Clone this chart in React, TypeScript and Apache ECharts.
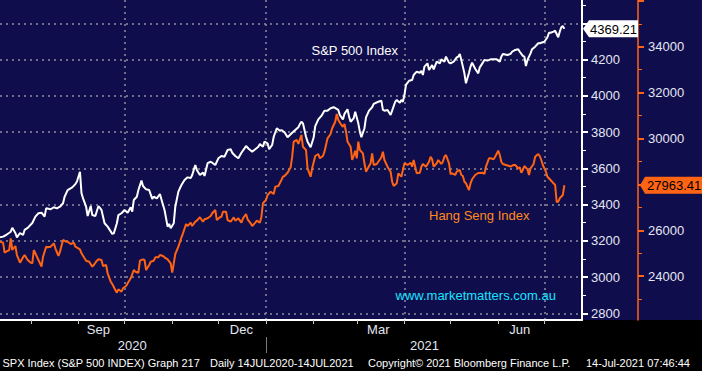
import React, { useEffect, useRef } from 'react';
import * as echarts from 'echarts';

const DAY = 86400000;
const ts = (s: string) => Date.parse(s + 'T00:00:00Z');
const START = ts('2020-07-12');
const toDay = (s: string) => (ts(s) - START) / DAY;
const X_MAX = 378.47;

// day offsets from 2020-07-12 and values
const spDays = [0,2,4,7,8,10,11,13,15,16,18,21,23,25,27,29,30,33,35,37,39,41,42,44,47,49,50,52,53,54,56,57,59,60,62,64,66,68,70,73,74,76,77,79,81,83,85,86,87,89,90,92,93,95,97,99,100,102,104,106,107,109,110,111,113,114,116,118,120,122,124,125,127,128,130,132,133,135,137,138,140,142,144,146,148,150,151,153,155,157,159,160,162,164,166,168,169,171,172,174,175,177,178,180,182,183,185,187,190,192,194,195,196,197,199,200,202,204,205,207,209,211,213,215,217,220,221,223,224,226,227,228,230,231,233,234,235,237,238,240,242,243,246,248,249,250,252,254,255,257,258,260,261,262,263,264,266,268,269,271,273,274,275,276,278,279,281,282,284,286,287,289,290,292,293,295,297,298,299,300,301,302,303,305,306,307,309,311,312,314,315,317,319,321,323,325,326,327,330,332,333,335,337,338,340,341,342,343,345,346,348,350,351,352,354,356,357,358,360,361,363,364,365,366,367];
const spValues = [3219,3223,3232,3250,3272,3243,3219,3243,3232,3260,
3271,3298,3333,3352,3355,3333,3379,3374,3385,3379,
3388,3407,3443,3480,3495,3513,3526,3581,3462,3434,
3388,3337,3392,3342,3337,3392,3370,3297,3278,3238,
3241,3297,3342,3352,3370,3355,3385,3361,3425,3443,
3480,3532,3502,3484,3480,3431,3443,3434,3458,3398,
3370,3278,3293,3269,3297,3388,3471,3508,3535,3550,
3546,3563,3618,3591,3563,3576,3558,3628,3636,3631,
3618,3655,3668,3664,3701,3705,3686,3668,3655,3686,
3710,3723,3705,3692,3705,3719,3734,3719,3747,3738,
3705,3729,3774,3821,3807,3811,3799,3771,3796,3811,
3826,3844,3857,3848,3774,3747,3716,3771,3833,3870,
3889,3918,3918,3931,3937,3922,3894,3870,3900,3926,
3885,3857,3876,3912,3848,3802,3771,3821,3881,3918,
3937,3955,3967,3973,3922,3918,3922,3894,3918,3967,
3977,3962,3977,3967,4004,4060,4083,4087,4115,4133,
4127,4138,4115,4161,4179,4142,4170,4146,4188,4179,
4201,4188,4216,4183,4179,4188,4212,4216,4231,4198,
4161,4124,4069,4127,4161,4183,4149,4124,4157,4183,
4198,4194,4201,4201,4201,4188,4216,4231,4225,4231,
4243,4253,4257,4243,4220,4216,4164,4198,4234,4257,
4271,4290,4290,4293,4298,4323,4348,4348,4354,4359,
4323,4354,4378,4385,4369.21];

const hsiDays = [0,2,3,4,6,7,8,10,11,13,15,16,18,20,21,22,24,26,27,28,30,31,33,35,36,38,39,41,43,44,46,48,49,52,53,55,56,58,60,61,63,64,66,67,69,70,72,73,75,76,77,79,80,82,83,85,87,88,90,91,93,94,95,97,98,100,101,103,104,106,107,109,111,112,113,114,116,118,119,121,122,124,125,127,128,130,132,133,135,137,138,140,141,143,144,145,147,148,150,152,153,155,157,158,160,161,163,164,166,167,169,170,171,173,174,176,178,179,181,183,184,185,187,189,190,191,193,194,196,197,199,200,202,203,205,207,208,210,211,213,215,216,218,219,220,222,223,224,225,226,228,229,230,231,232,233,234,236,237,238,240,241,242,243,245,246,248,249,250,252,254,255,256,258,259,261,262,263,265,267,268,269,270,271,273,274,275,277,279,280,281,282,284,285,287,288,289,290,292,293,294,296,297,299,300,301,302,303,305,306,307,309,311,312,314,315,316,318,319,321,322,324,325,326,327,329,331,332,334,335,337,338,339,340,341,343,344,345,347,348,350,351,352,353,355,356,358,359,361,362,363,364,366,367];
const hsiValues = [25504,25460,25025,25068,25142,25652,25142,25317,24924,24589,
24824,24924,24707,24589,24563,25142,24850,24563,24415,24850,
25286,25260,25286,25434,25216,24881,25068,25578,25504,25504,
25404,25460,25286,25173,24998,24781,24676,24632,24415,24489,
24676,24737,24707,24445,24489,24127,23761,23661,23399,23282,
23430,23325,23473,23574,23691,23909,24271,24197,24153,24676,
24737,24707,24271,24489,24632,24676,24824,24824,24924,24881,
24824,24737,24563,24153,24563,24968,25286,25696,25870,26275,
26188,26332,26188,26375,26419,26567,26375,26480,26523,26624,
26741,26885,26449,26567,26593,26811,26811,26449,26375,26567,
26419,26523,26332,26523,26711,26480,26306,26188,26332,26419,
26332,26593,27177,27321,27539,27682,27582,27900,27931,28192,
28336,28366,28510,28745,29207,29861,29935,29761,30153,29643,
29499,28702,28336,28702,29238,29325,29138,29238,29425,30009,
30196,30445,30732,31068,30806,30588,30514,30632,30297,29861,
29643,29064,29238,29469,29138,29861,29499,29355,28920,28554,
28802,28920,29355,28846,28889,28989,29181,29425,29064,28772,
28554,28118,27931,28048,28484,28336,28628,28920,28846,28946,
28772,29064,28772,28484,28510,28772,28889,28772,28989,29207,
29094,28772,28920,29064,28889,28989,29207,29281,28920,28453,
28484,28410,28554,28628,28410,28366,28118,28048,27756,28048,
28223,28410,28497,28497,28510,28453,28772,29138,29138,29094,
29207,29469,29281,28989,28889,28846,28802,28772,28846,28846,
28702,28745,28510,28628,28802,28658,28410,28702,28889,29207,
29325,29238,29064,28846,28554,28336,28192,28118,27974,27234,
27247,27395,27539,27963.41];

const monthTicks = ['2020-08-01','2020-09-01','2020-10-01','2020-11-01','2020-12-01','2021-01-01','2021-02-01','2021-03-01','2021-04-01','2021-05-01','2021-06-01','2021-07-01'];
const monthLabelDates = ['2020-09-14','2020-12-16','2021-03-15','2021-06-15'];
const monthNames = ['Jan','Feb','Mar','Apr','May','Jun','Jul','Aug','Sep','Oct','Nov','Dec'];
const yearLabelDates = ['2020-10-06','2021-04-14'];
const yearBoundary = ['2021-01-01'];
const quarterLines = ['2020-10-01','2021-01-01','2021-04-01','2021-07-01'];

const spTicks = [2800,3000,3200,3400,3600,3800,4000,4200,4400];
const spLabels = [2800,3000,3200,3400,3600,3800,4000,4200];
const spMinor = [2900,3100,3300,3500,3700,3900,4100,4300,4500];
const hsiTicks = [24000,26000,28000,30000,32000,34000,36000];
const hsiLabels = [24000,26000,30000,32000,34000];
const hsiMinor = [23000,25000,27000,29000,31000,33000,35000];

const spLast = 4369.21;
const hsiLast = 27963.41;

const FONT = '"Liberation Sans", Arial, sans-serif';
const NAVY = '#0f0d4b';
const ORANGE = '#ff6414';
const LABEL = '#e4e6f4';
const GRID_RIGHT = 582;
const HSI_AXIS_X = 638;

const dateOf = (d: number) => new Date(START + Math.round(d) * DAY);
const plain = (v: number) => String(v);

export default function App() {
  const ref = useRef<HTMLDivElement>(null);
  useEffect(() => {
    if (!ref.current) return;
    const chart = echarts.init(ref.current, null, { renderer: 'svg' });
    const spData = spDays.map((d, i) => [d, spValues[i]]);
    const hsiData = hsiDays.map((d, i) => [d, hsiValues[i]]);
    const dotted = { type: [2, 4] as any, color: '#8e8ea0', width: 1.5 };
    chart.setOption({
      animation: false,
      backgroundColor: new echarts.graphic.LinearGradient(0, 0, 0, 1, [
        { offset: 0, color: NAVY },
        { offset: 320 / 371, color: NAVY },
        { offset: 320 / 371, color: '#000' },
        { offset: 1, color: '#000' },
      ]),
      grid: { left: 0, top: 0, right: 702 - GRID_RIGHT, bottom: 51, containLabel: false },
      xAxis: [
        {
          type: 'value', min: 0, max: X_MAX, position: 'bottom',
          axisLine: { show: true, onZero: false, lineStyle: { color: '#ffffff', width: 2 } },
          axisTick: { show: true, customValues: monthTicks.map(toDay), length: 4, lineStyle: { color: '#c8c8c8' } },
          axisLabel: {
            customValues: monthLabelDates.map(toDay), color: LABEL, fontSize: 13, fontFamily: FONT, margin: 3,
            formatter: (v: number) => monthNames[dateOf(v).getUTCMonth()],
          },
          splitLine: { show: false },
        },
        {
          type: 'value', min: 0, max: X_MAX, position: 'bottom', offset: 17,
          axisLine: { show: false, onZero: false },
          axisTick: { show: true, customValues: yearBoundary.map(toDay), length: 16, lineStyle: { color: '#7a7a7a' } },
          axisLabel: {
            customValues: yearLabelDates.map(toDay), color: LABEL, fontSize: 13, fontFamily: FONT, margin: 2,
            formatter: (v: number) => String(dateOf(v).getUTCFullYear()),
          },
          splitLine: { show: false },
        },
        {
          type: 'value', min: 0, max: X_MAX, position: 'top',
          axisLine: { show: false, onZero: false },
          axisTick: { show: false, customValues: quarterLines.map(toDay) },
          axisLabel: { show: false },
          splitLine: { show: true, lineStyle: dotted },
        },
      ],
      yAxis: [
        {
          type: 'value', position: 'right', min: 2763, max: 4528.5,
          axisLine: { show: true, onZero: false, lineStyle: { color: '#ffffff', width: 2 } },
          axisTick: { show: true, customValues: spTicks, length: 6, lineStyle: { color: '#ffffff', width: 2 } },
          axisLabel: { customValues: spLabels, color: LABEL, fontSize: 13, fontFamily: FONT, margin: 9, formatter: plain },
          splitLine: { show: true, lineStyle: dotted },
        },
        {
          type: 'value', position: 'right', offset: HSI_AXIS_X - GRID_RIGHT, min: 22092, max: 36035,
          axisLine: { show: true, onZero: false, lineStyle: { color: ORANGE, width: 1.5 } },
          axisTick: { show: true, customValues: hsiTicks, length: 6, lineStyle: { color: ORANGE, width: 2 } },
          axisLabel: { customValues: hsiLabels, color: LABEL, fontSize: 13, fontFamily: FONT, margin: 10, formatter: plain },
          splitLine: { show: false },
        },
        {
          type: 'value', position: 'right', min: 2763, max: 4528.5,
          axisLine: { show: false, onZero: false },
          axisTick: { show: true, customValues: spMinor, length: 4, lineStyle: { color: '#ffffff', width: 1 } },
          axisLabel: { show: false },
          splitLine: { show: false },
        },
        {
          type: 'value', position: 'right', offset: HSI_AXIS_X - GRID_RIGHT, min: 22092, max: 36035,
          axisLine: { show: false, onZero: false },
          axisTick: { show: true, customValues: hsiMinor, length: 4, lineStyle: { color: ORANGE, width: 1 } },
          axisLabel: { show: false },
          splitLine: { show: false },
        },
      ],
      series: [
        {
          name: 'Hang Seng Index', type: 'line', xAxisIndex: 0, yAxisIndex: 1, data: hsiData,
          showSymbol: false, lineStyle: { color: ORANGE, width: 2 }, z: 2,
        },
        {
          name: 'S&P 500 Index', type: 'line', xAxisIndex: 0, yAxisIndex: 0, data: spData,
          showSymbol: false, lineStyle: { color: '#ffffff', width: 2 }, z: 3,
        },
      ],
    });

    const ySp = chart.convertToPixel({ yAxisIndex: 0 }, spLast) as number;
    const yH = chart.convertToPixel({ yAxisIndex: 1 }, hsiLast) as number;
    const h = 8.5;
    const txt = (text: string, x: number, y: number, fill: string, size = 13) => ({
      type: 'text', x, y, z: 100,
      style: { text, fill, font: `${size}px ${FONT}`, align: 'left', verticalAlign: 'middle' },
    });
    chart.setOption({
      graphic: [
        txt('S&P 500 Index', 311.5, 50, '#ffffff'),
        txt('Hang Seng Index', 429, 215, '#ff8a1e'),
        txt('www.marketmatters.com.au', 395.5, 295, '#19e4ff'),
        {
          type: 'polygon', z: 99,
          shape: { points: [[GRID_RIGHT + 1, ySp], [GRID_RIGHT + 7, ySp - h], [HSI_AXIS_X, ySp - h], [HSI_AXIS_X, ySp + h], [GRID_RIGHT + 7, ySp + h]] },
          style: { fill: '#ffffff' },
        },
        txt(spLast.toFixed(2), GRID_RIGHT + 8, ySp + 0.5, '#000000'),
        {
          type: 'polygon', z: 99,
          shape: { points: [[HSI_AXIS_X + 2, yH], [HSI_AXIS_X + 7, yH - h], [702, yH - h], [702, yH + h], [HSI_AXIS_X + 7, yH + h]] },
          style: { fill: ORANGE },
        },
        txt(hsiLast.toFixed(2), HSI_AXIS_X + 9, yH + 0.5, '#000000'),
        txt('SPX Index (S&P 500 INDEX) Graph 217', 2.5, 362.5, '#ffffff', 11),
        txt('Daily 14JUL2020-14JUL2021', 210, 362.5, '#ffffff', 11),
        txt('Copyright\u00a9 2021 Bloomberg Finance L.P.', 368, 362.5, '#ffffff', 11),
        txt('14-Jul-2021 07:46:44', 586, 362.5, '#ffffff', 11),
      ],
    });
    return () => chart.dispose();
  }, []);
  return <div ref={ref} style={{ position: 'fixed', left: 0, top: 0, width: 702, height: 371 }} />;
}
